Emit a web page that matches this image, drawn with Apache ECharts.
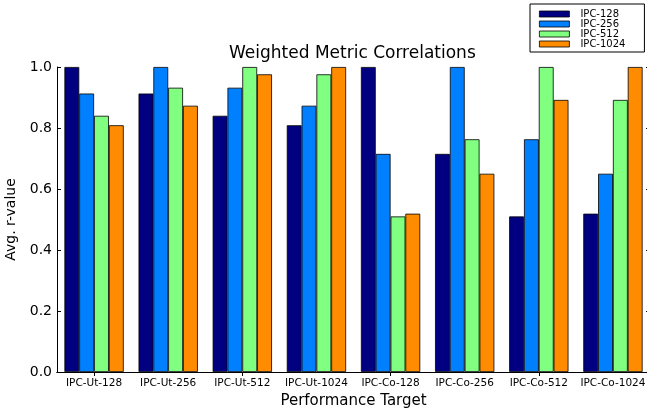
<!DOCTYPE html>
<html>
<head>
<meta charset="utf-8">
<script src="https://cdn.jsdelivr.net/npm/echarts@6/dist/echarts.min.js"></script>
<style>html,body{margin:0;padding:0;background:#fff;}#c{width:647px;height:410px;}</style>
</head>
<body>
<div id="c"></div>
<script>
const categories = ['IPC-Ut-128','IPC-Ut-256','IPC-Ut-512','IPC-Ut-1024','IPC-Co-128','IPC-Co-256','IPC-Co-512','IPC-Co-1024'];
const seriesNames = ['IPC-128','IPC-256','IPC-512','IPC-1024'];
const ipc128  = [1.0, 0.913, 0.840, 0.809, 1.0, 0.715, 0.510, 0.519];
const ipc256  = [0.913, 1.0, 0.932, 0.873, 0.715, 1.0, 0.763, 0.650];
const ipc512  = [0.840, 0.932, 1.0, 0.976, 0.510, 0.763, 1.0, 0.892];
const ipc1024 = [0.809, 0.873, 0.976, 1.0, 0.519, 0.650, 0.892, 1.0];
const yTicks = [0.0, 0.2, 0.4, 0.6, 0.8, 1.0];

const colors = ['#000080', '#0080ff', '#80ff80', '#ff8c00'];
const values = [ipc128, ipc256, ipc512, ipc1024];
const font = 'DejaVu Sans';

const chart = echarts.init(document.getElementById('c'), null, {renderer: 'canvas'});
chart.setOption({
  animation: false,
  backgroundColor: '#fff',
  textStyle: {fontFamily: font},
  title: {
    text: 'Weighted Metric Correlations',
    left: 229, top: 45, padding: 0,
    textStyle: {fontFamily: font, fontSize: 17, fontWeight: 'normal', color: '#000'}
  },
  legend: {
    orient: 'vertical',
    left: 530, top: 4,
    padding: [5, 19, 3, 9],
    itemWidth: 30, itemHeight: 6, itemGap: 0,
    borderColor: '#000', borderWidth: 1,
    icon: 'rect',
    itemStyle: {borderColor: '#000', borderWidth: 0.8},
    textStyle: {fontFamily: font, fontSize: 10, lineHeight: 10, color: '#000', padding: [0, 0, 0, 6]},
    data: seriesNames
  },
  grid: {left: 57, right: -3, top: 67, bottom: 38, containLabel: false, outerBoundsMode: 'none'},
  xAxis: [{
    type: 'category', data: categories,
    axisLine: {show: true, lineStyle: {color: '#000', width: 1}},
    axisTick: {show: false},
    axisLabel: {fontFamily: font, fontSize: 10.5, color: '#000', margin: 6, interval: 0},
    name: 'Performance Target', nameLocation: 'middle', nameGap: 22,
    nameTextStyle: {fontFamily: font, fontSize: 15, color: '#000'}
  }, {
    type: 'category', data: categories, position: 'top',
    axisLine: {show: true, lineStyle: {color: '#000', width: 1}},
    axisTick: {show: true, inside: true, length: 4, alignWithLabel: true, lineStyle: {color: '#000'}},
    axisLabel: {show: false}
  }],
  yAxis: [{
    type: 'value', min: 0, max: 1, interval: 0.2,
    axisLine: {show: true, lineStyle: {color: '#000', width: 1}},
    axisTick: {show: true, inside: true, length: 4, lineStyle: {color: '#000'}},
    splitLine: {show: false},
    axisLabel: {fontFamily: font, fontSize: 14, color: '#000', margin: 5,
      formatter: v => yTicks.find(t => Math.abs(t - v) < 1e-9).toFixed(1)},
    name: 'Avg. r-value', nameLocation: 'middle', nameGap: 28,
    nameTextStyle: {fontFamily: font, fontSize: 14, color: '#000'}
  }, {
    type: 'value', min: 0, max: 1, interval: 0.2, position: 'right',
    axisLine: {show: true, lineStyle: {color: '#000', width: 1}},
    axisTick: {show: true, inside: true, length: 4, lineStyle: {color: '#000'}},
    splitLine: {show: false},
    axisLabel: {show: false}
  }],
  series: seriesNames.map((n, i) => ({
    name: n, type: 'bar', data: values[i],
    barGap: '0%', barCategoryGap: '20%',
    itemStyle: {color: colors[i], borderColor: '#000', borderWidth: 0.8}
  }))
});
</script>
</body>
</html>
